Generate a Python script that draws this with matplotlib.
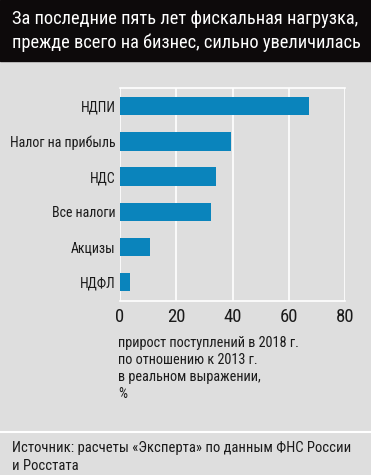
import matplotlib
matplotlib.use("Agg")
import matplotlib.pyplot as plt

# данные
categories = ["НДПИ", "Налог на прибыль", "НДС", "Все налоги", "Акцизы", "НДФЛ"]
values = [67.2, 39.3, 34.2, 32.4, 10.6, 3.4]
xticks = [0, 20, 40, 60, 80]

title = "За последние пять лет фискальная нагрузка,\nпрежде всего на бизнес, сильно увеличилась"
xlabel = "прирост поступлений в 2018 г.\nпо отношению к 2013 г.\nв реальном выражении,\n%"
source = "Источник: расчеты «Эксперта» по данным ФНС России\nи Росстата"

bg = "#dedede"
bar_color = "#0a84bc"
plt.rcParams['font.family'] = ['Roboto Condensed', 'DejaVu Sans']

W, H = 371, 475
fig = plt.figure(figsize=(W / 100, H / 100), dpi=100)
fig.patch.set_facecolor(bg)

# черная плашка с заголовком
fig.patches.append(plt.Rectangle((0, 1 - 61 / H), 1, 61 / H, transform=fig.transFigure,
                                 color="#0d0a0b", zorder=0))
fig.text(12 / W, 1 - 31 / H, title, color="white", fontsize=13.2, va="center", ha="left",
         linespacing=1.32)

ax = fig.add_axes([120 / W, 1 - 301 / H, 225 / W, 213 / H])
ax.set_facecolor(bg)
y = list(range(len(categories)))[::-1]
ax.barh(y, values, height=0.52, color=bar_color, zorder=3)
ax.set_xlim(0, 80)
ax.set_ylim(-0.54, 5.52)
ax.set_xticks(xticks)
ax.set_yticks(y)
ax.set_yticklabels(categories, fontsize=10, color="#1a1a1a")
ax.tick_params(axis="x", labelsize=13.5, length=0, pad=5, labelcolor="#1a1a1a")
ax.tick_params(axis="y", length=0, pad=3)
ax.grid(axis="x", color="white", linewidth=1.2, zorder=1)
for side in ["left", "right"]:
    ax.spines[side].set_visible(False)
for side in ["top", "bottom"]:
    ax.spines[side].set_color("white")
    ax.spines[side].set_linewidth(1.2)

fig.text(118 / W, 1 - 336 / H, xlabel, fontsize=10.3, va="top", ha="left", linespacing=1.28,
         color="#1a1a1a")

# линия над источником
fig.add_artist(plt.Line2D([0, 1], [1 - 432 / H, 1 - 432 / H], color="white", linewidth=1.5))
fig.text(12 / W, 1 - 441 / H, source, fontsize=10.5, va="top", ha="left", linespacing=1.4,
         color="#1a1a1a")

fig.savefig("out.png", dpi=100, facecolor=bg)
